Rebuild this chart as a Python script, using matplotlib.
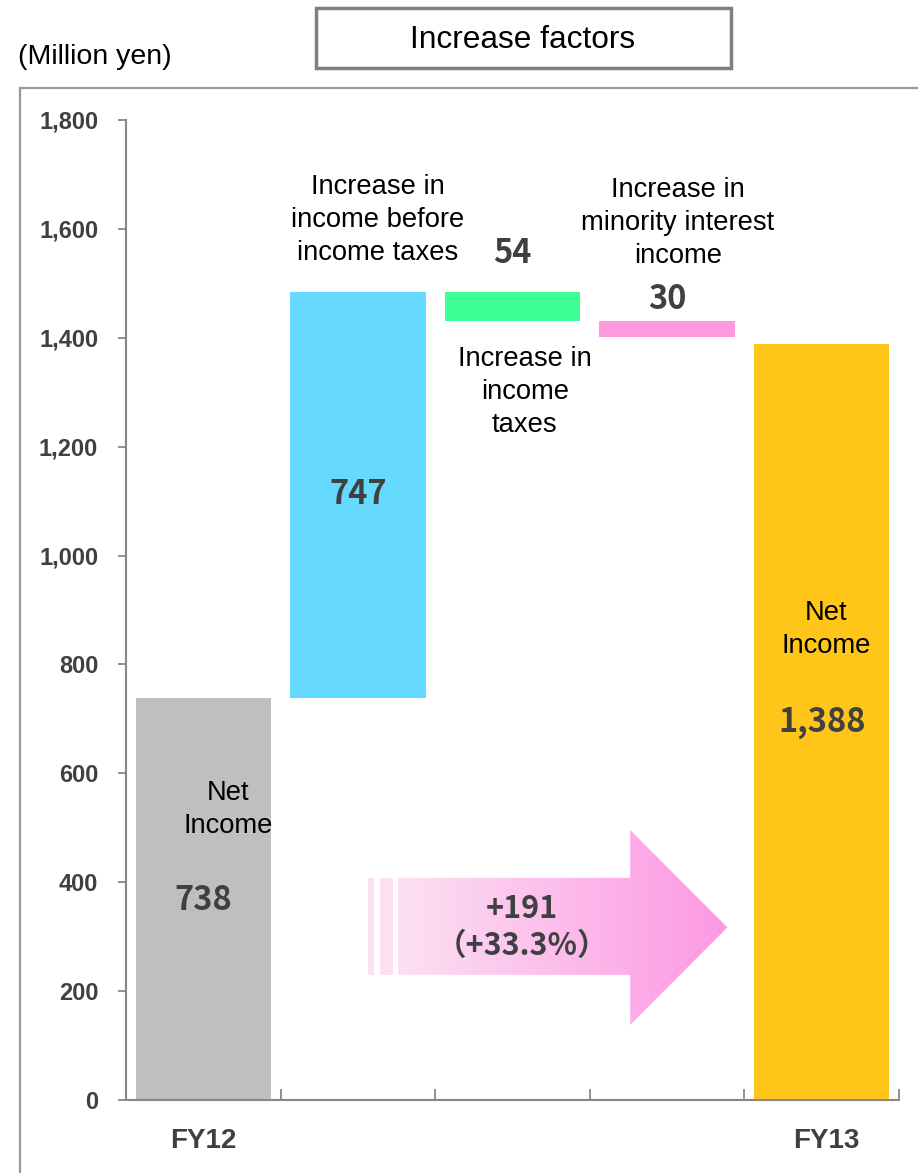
import matplotlib
matplotlib.use("Agg")
import matplotlib.pyplot as plt
import numpy as np
from matplotlib.patches import Polygon, Rectangle
from matplotlib.ticker import FuncFormatter

# waterfall data (million yen)
categories = ["FY12", "income before taxes", "income taxes", "minority interest", "FY13"]
values = [738, 747, -54, -30, 1388]
kinds = ["total", "delta", "delta", "delta", "total"]
bar_colors = ["#bfbfbf", "#66d9ff", "#3dff94", "#ff99dd", "#ffc619"]
value_labels = ["738", "747", "54", "30", "1,388"]
change_text = "+191\n\uff08+33.3%\uff09"

W, H = 918, 1173
fig = plt.figure(figsize=(W / 100, H / 100), dpi=100)
fig.patch.set_facecolor("white")

def fx(px):
    return px / W

def fy(py):
    return 1 - py / H

# outer frame and title box
fig.patches.append(Rectangle((fx(20), fy(1180)), fx(910), fy(88) - fy(1180),
                             transform=fig.transFigure, fill=False,
                             edgecolor="#999999", linewidth=1.6))
fig.patches.append(Rectangle((fx(316), fy(68)), fx(731) - fx(316), fy(8) - fy(68),
                             transform=fig.transFigure, facecolor="white",
                             edgecolor="#808080", linewidth=2.5))
fig.text(fx(523), fy(40), "Increase factors", ha="center", va="center",
         fontsize=22.8, family="Liberation Sans", color="black")
fig.text(fx(18), fy(57), "(Million yen)", ha="left", va="center",
         fontsize=20.5, family="Liberation Sans", color="black")

ax = fig.add_axes([fx(126), fy(1100), fx(899) - fx(126), fy(120) - fy(1100)])

x = np.arange(len(categories))
bottoms = []
tops = []
running = 0
for v, k in zip(values, kinds):
    if k == "total":
        bottoms.append(0)
        tops.append(v)
        running = v
    else:
        lo, hi = sorted([running, running + v])
        bottoms.append(lo)
        tops.append(hi)
        running += v
heights = np.array(tops) - np.array(bottoms)

ax.bar(x, heights, bottom=bottoms, width=0.875, color=bar_colors, zorder=2)

ax.set_xlim(-0.5, 4.5)
ax.set_ylim(0, 1800)
ax.set_yticks(np.arange(0, 1801, 200))
ax.yaxis.set_major_formatter(FuncFormatter(lambda v, p: f"{int(v):,}"))
for s in ["top", "right"]:
    ax.spines[s].set_visible(False)
for s in ["left", "bottom"]:
    ax.spines[s].set_color("#888888")
    ax.spines[s].set_linewidth(1.5)
ax.tick_params(axis="y", direction="out", length=6, width=1.3, color="#888888",
               labelsize=17, labelcolor="#404040", pad=14)
for t in ax.get_yticklabels():
    t.set_family("Liberation Sans")
    t.set_fontweight("bold")
ax.set_xticks(np.arange(0.5, 5, 1))
ax.set_xticklabels([])
ax.tick_params(axis="x", direction="in", length=8, width=1.3, color="#888888")

# category labels under the totals
for i in [0, 4]:
    ax.text(x[i] + (0.03 if i == 4 else 0), -75, categories[i], ha="center", va="center",
            fontsize=20, fontweight="bold", family="Liberation Sans",
            color="#404040", clip_on=False)

# value labels
num_font = dict(family=["Noto Sans CJK JP", "DejaVu Sans"], fontweight="bold",
                color="#404040", fontsize=23.5, ha="center", va="center")
ax.text(x[0], 367, value_labels[0], **num_font)
ax.text(x[1], 1113, value_labels[1], **num_font)
ax.text(x[2], tops[2] + 70, value_labels[2], **num_font)
ax.text(x[3], tops[3] + 40, value_labels[3], **num_font)
ax.text(x[4], 694, value_labels[4], **num_font)

lab_font = dict(family="Liberation Sans", color="black", fontsize=19.7,
                ha="center", va="center", linespacing=1.35)
ax.text(x[0] + 0.16, 534, "Net\nIncome", **lab_font)
ax.text(x[4] + 0.03, 865, "Net\nIncome", **lab_font)
ax.text(x[1] + 0.13, 1616, "Increase in\nincome before\nincome taxes", **lab_font)
ax.text(x[2] + 0.08, 1300, "Increase in\nincome\ntaxes", **lab_font)
ax.text(x[3] + 0.07, 1611, "Increase in\nminority interest\nincome", **lab_font)

# gradient arrow from FY12 to FY13
shaft_x0, head_x0, tip_x = 1.259, 2.761, 3.390
shaft_lo, shaft_hi = 230, 408
head_lo, head_hi = 138, 496
mid_y = (head_lo + head_hi) / 2
arrow_pts = [(shaft_x0, shaft_lo), (head_x0, shaft_lo), (head_x0, head_lo),
             (tip_x, mid_y), (head_x0, head_hi), (head_x0, shaft_hi),
             (shaft_x0, shaft_hi)]
arrow = Polygon(arrow_pts, closed=True, facecolor="none", edgecolor="none")
ax.add_patch(arrow)
c0 = np.array([253, 224, 242]) / 255
c1 = np.array([252, 152, 228]) / 255
t = np.linspace(0, 1, 256)
grad = (c0[None, :] * (1 - t[:, None]) + c1[None, :] * t[:, None])[None, :, :]
im = ax.imshow(grad, extent=[shaft_x0, tip_x, head_lo, head_hi], aspect="auto",
               zorder=1, interpolation="bilinear")
im.set_clip_path(arrow)
for sx0, sx1 in [(1.066, 1.104), (1.143, 1.227)]:
    ax.add_patch(Rectangle((sx0, shaft_lo), sx1 - sx0, shaft_hi - shaft_lo,
                           facecolor="#fde0f2", edgecolor="none", zorder=1))
ax.text(2.06, mid_y, change_text, ha="center", va="center", fontsize=22,
        family=["Noto Sans CJK JP", "DejaVu Sans"], fontweight="bold",
        color="#404040", linespacing=1.2, zorder=3)

ax.set_xlim(-0.5, 4.5)
ax.set_ylim(0, 1800)

fig.savefig("out.png", dpi=100)
